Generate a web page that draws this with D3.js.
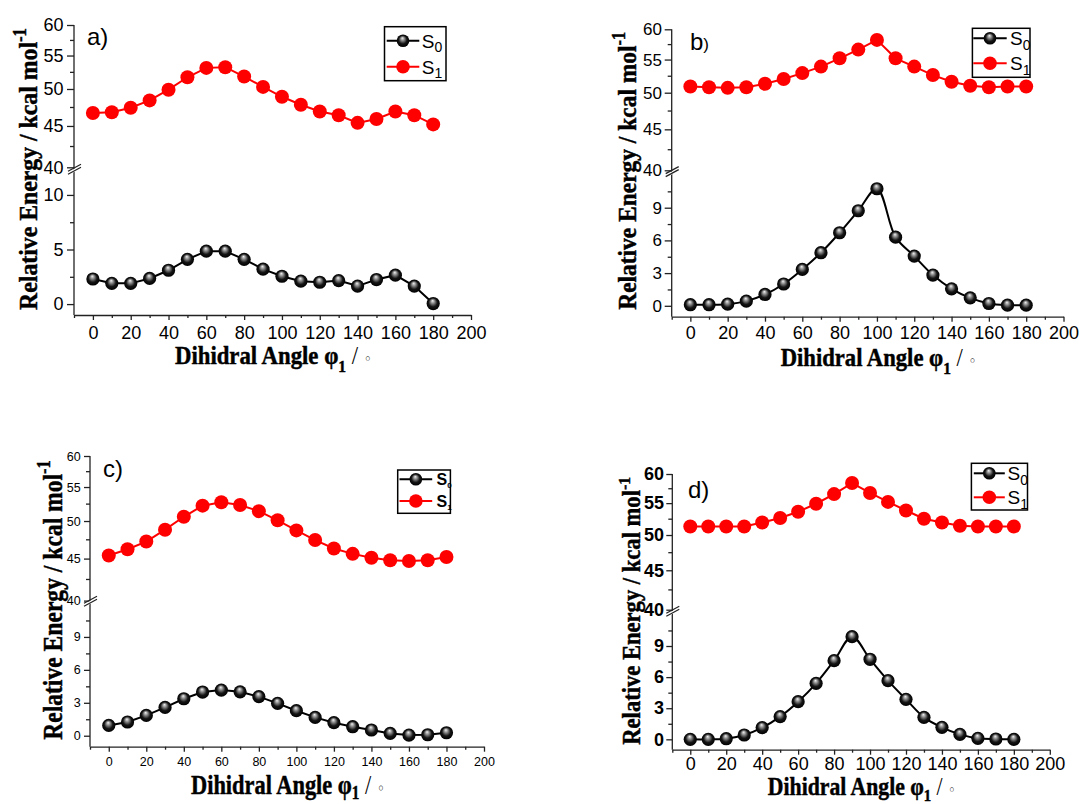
<!DOCTYPE html>
<html lang="en">
<head>
<meta charset="UTF-8">
<title>Relative Energy vs Dihidral Angle</title>
<script src="https://d3js.org/d3.v7.min.js"></script>
<style>
  body { margin: 0; background: #fff; }
  svg { display: block; }
  .tick line, .domain { stroke: #222; stroke-width: 1.3; }
</style>
</head>
<body>
<div id="chart"></div>
<script>
// ---- data ----
const angles = [0, 10, 20, 30, 40, 50, 60, 70, 80, 90, 100, 110, 120, 130, 140, 150, 160, 170, 180];

const s0A = [2.3, 1.9, 1.9, 2.35, 3.1, 4.1, 4.85, 4.85, 4.1, 3.2, 2.55, 2.1, 2.0, 2.15, 1.65, 2.25, 2.65, 1.65, 0.05];
const s1A = [46.7, 46.8, 47.4, 48.4, 49.9, 51.7, 53.1, 53.2, 51.8, 50.3, 48.9, 47.8, 46.9, 46.4, 45.4, 45.9, 46.9, 46.4, 45.2];

const s0B = [0.1, 0.1, 0.15, 0.43, 1.04, 2.0, 3.34, 4.87, 6.7, 8.72, 10.74, 6.3, 4.56, 2.82, 1.56, 0.73, 0.21, 0.06, 0.06];
const s1B = [50.9, 50.8, 50.7, 50.8, 51.3, 52.0, 52.9, 53.9, 55.2, 56.6, 58.2, 55.2, 53.9, 52.6, 51.6, 51.0, 50.8, 50.9, 50.9];

const s0C = [0.94, 1.25, 1.85, 2.58, 3.37, 3.98, 4.16, 4.0, 3.56, 2.95, 2.28, 1.67, 1.19, 0.82, 0.52, 0.21, 0.06, 0.09, 0.27];
const s1C = [45.4, 46.2, 47.2, 48.8, 50.6, 52.2, 52.7, 52.3, 51.4, 50.1, 48.7, 47.4, 46.3, 45.6, 45.1, 44.8, 44.7, 44.8, 45.2];

const s0D = [0, 0, 0.06, 0.42, 1.13, 2.19, 3.63, 5.4, 7.59, 9.9, 7.72, 5.66, 3.86, 2.12, 1.16, 0.48, 0.1, 0.03, 0];
const s1D = [51.3, 51.3, 51.3, 51.3, 51.9, 52.6, 53.6, 54.9, 56.5, 58.4, 56.7, 55.2, 53.8, 52.5, 51.9, 51.4, 51.3, 51.3, 51.3];

const panelLabels = ["a", "b", "c", "d"];
const seriesLabels = [["S", "0"], ["S", "1"]];
const xTicks = [0, 20, 40, 60, 80, 100, 120, 140, 160, 180, 200];
const xMinor = [-10, 10, 30, 50, 70, 90, 110, 130, 150, 170, 190];
const upperTicks = [40, 45, 50, 55, 60];
const upperMinor = [42.5, 47.5, 52.5, 57.5];
const lowerTicksA = [0, 5, 10];
const lowerMinorA = [2.5, 7.5];
const lowerTicks3 = [0, 3, 6, 9];
const lowerMinor3 = [1.5, 4.5, 7.5, 10.5];

const panels = [
  { s0: s0A, s1: s1A, label: panelLabels[0], lowT: lowerTicksA, lowM: lowerMinorA, smooth: false,
    axisX: 74, x200: 471, y60: 25, y40: 167.3, axisY: 315, lowTop: 173.1,
    yTick: { size: 18, weight: "normal", len: 7, pad: 3.5 }, xTick: { size: 18, pad: 6.5 },
    lab: { x: 87, y: 45, size: 24, psize: 24 },
    leg: { x0: 384.5, y0: 26.7, x1: 446, y1: 80.7, rows: [40.7, 66.7], l0: 386.7, l1: 419.3, tx: 421.7, size: 19, sub: 14, weight: "normal" },
    yTitle: { x: 36.5, cy: 169, len: 282, size: 26 },
    xTitle: { cx: 273.4, y: 364, len: 197, size: 25, drop: 0.3 } },
  { s0: s0B, s1: s1B, label: panelLabels[1], lowT: lowerTicks3, lowM: lowerMinor3, smooth: true,
    axisX: 671.7, x200: 1063.5, y60: 29.3, y40: 170.3, axisY: 316.7, lowTop: 175,
    yTick: { size: 17, weight: "normal", len: 7, pad: 2.7 }, xTick: { size: 18, pad: 5 },
    lab: { x: 690, y: 50, size: 24, psize: 17 },
    leg: { x0: 972.4, y0: 28.3, x1: 1030, y1: 77.3, rows: [38.3, 63.3], l0: 973.3, l1: 1006.7, tx: 1010, size: 19, sub: 14, weight: "normal" },
    yTitle: { x: 636, cy: 170.8, len: 278, size: 26 },
    xTitle: { cx: 878.6, y: 366, len: 196, size: 25, drop: 0.3 } },
  { s0: s0C, s1: s1C, label: panelLabels[2], lowT: lowerTicks3, lowM: lowerMinor3, smooth: false,
    axisX: 90, x200: 484, y60: 456, y40: 600.6, axisY: 746.7, lowTop: 604,
    yTick: { size: 12.5, weight: "normal", len: 6, pad: 3.3 }, xTick: { size: 12.5, pad: 5.5 },
    lab: { x: 103, y: 477, size: 24, psize: 24 },
    leg: { x0: 397.7, y0: 470, x1: 450.4, y1: 513.3, rows: [479.3, 501], l0: 399.5, l1: 432.2, tx: 436.6, size: 16, sub: 8, weight: "bold" },
    yTitle: { x: 61.7, cy: 600, len: 280, size: 28 },
    xTitle: { cx: 287.9, y: 794, len: 194, size: 27, drop: 0.2 } },
  { s0: s0D, s1: s1D, label: panelLabels[3], lowT: lowerTicks3, lowM: lowerMinor3, smooth: true,
    axisX: 672.3, x200: 1049.8, y60: 474, y40: 609.7, axisY: 749.7, lowTop: 614.9,
    yTick: { size: 18, weight: "bold", len: 6, pad: 2.3 }, xTick: { size: 18, pad: 2.5 },
    lab: { x: 688, y: 498, size: 24, psize: 24 },
    leg: { x0: 971.4, y0: 463.3, x1: 1027.5, y1: 510, rows: [473.3, 497.3], l0: 973.8, l1: 1004.8, tx: 1007.5, size: 19, sub: 14, weight: "normal" },
    yTitle: { x: 640, cy: 610.8, len: 268, size: 25 },
    xTitle: { cx: 861.8, y: 795, len: 188, size: 25, drop: 0.25 } }
];

const sansFont = "'Liberation Sans', Arial, sans-serif";
const serifFont = "'Liberation Serif', 'Times New Roman', serif";

const svg = d3.select("#chart").append("svg")
  .attr("width", 1079)
  .attr("height", 804);

// shaded black ball used for the S0 markers
const grad = svg.append("defs").append("radialGradient")
  .attr("id", "ball")
  .attr("cx", "50%").attr("cy", "50%").attr("r", "50%")
  .attr("fx", "45%").attr("fy", "28%");
grad.append("stop").attr("offset", "0%").attr("stop-color", "#f2f2f2");
grad.append("stop").attr("offset", "30%").attr("stop-color", "#8a8a8a");
grad.append("stop").attr("offset", "65%").attr("stop-color", "#151515");
grad.append("stop").attr("offset", "100%").attr("stop-color", "#000");

panels.forEach(drawPanel);

function drawPanel(p) {
  const g = svg.append("g");

  const x = d3.scaleLinear().domain([-10, 200]).range([p.axisX, p.x200]);
  const yUp = d3.scaleLog().domain([40, 60]).range([p.y40, p.y60]);
  const yLow = d3.scaleLinear().domain([-1, 12]).range([p.axisY, p.lowTop]);

  // x axis
  const xAxis = g.append("g")
    .attr("transform", `translate(0,${p.axisY})`)
    .call(d3.axisBottom(x).tickValues(xTicks).tickSize(5).tickSizeOuter(0).tickPadding(p.xTick.pad));
  xAxis.attr("font-size", p.xTick.size).attr("font-family", sansFont);
  g.append("g")
    .attr("transform", `translate(0,${p.axisY})`)
    .call(d3.axisBottom(x).tickValues(xMinor).tickSize(3).tickFormat(""))
    .select(".domain").remove();

  // y axis line (drawn by hand, broken below)
  g.append("line")
    .attr("x1", p.axisX).attr("x2", p.axisX)
    .attr("y1", p.y60).attr("y2", p.axisY)
    .attr("stroke", "#222").attr("stroke-width", 1.3);

  function yAxis(scale, ticks, minor) {
    const a = g.append("g")
      .attr("transform", `translate(${p.axisX},0)`)
      .call(d3.axisLeft(scale).tickValues(ticks).tickSize(p.yTick.len)
        .tickPadding(p.yTick.pad).tickFormat(d3.format("d")));
    a.select(".domain").remove();
    a.attr("font-size", p.yTick.size).attr("font-family", sansFont)
      .attr("font-weight", p.yTick.weight);
    g.append("g")
      .attr("transform", `translate(${p.axisX},0)`)
      .call(d3.axisLeft(scale).tickValues(minor).tickSize(4).tickFormat(""))
      .select(".domain").remove();
  }
  yAxis(yUp, upperTicks, upperMinor);
  yAxis(yLow, p.lowT, p.lowM);

  // break marks
  const gm = (yUp(40) + yLow(12)) / 2;
  const bx0 = p.axisX - 6, bx1 = p.axisX + 7;
  g.append("polygon")
    .attr("points", `${bx0},${gm + 4} ${bx1},${gm - 3} ${bx1},${gm - 0} ${bx0},${gm + 7}`)
    .attr("transform", "translate(0,-2)")
    .attr("fill", "#fff");
  [gm + 2, gm + 5].forEach(b => {
    g.append("line")
      .attr("x1", bx0).attr("y1", b - 1)
      .attr("x2", bx1).attr("y2", b - 8)
      .attr("stroke", "#222").attr("stroke-width", 1.2);
  });

  // S1 (red) on the upper segment
  const s1pts = angles.map((a, i) => [a, p.s1[i]]);
  g.append("path")
    .datum(s1pts)
    .attr("fill", "none")
    .attr("stroke", "#ff0000")
    .attr("stroke-width", 2)
    .attr("d", d3.line().x(d => x(d[0])).y(d => yUp(d[1])));
  g.selectAll(".s1dot")
    .data(s1pts)
    .enter().append("circle")
    .attr("class", "s1dot")
    .attr("cx", d => x(d[0])).attr("cy", d => yUp(d[1]))
    .attr("r", 7)
    .attr("fill", "#ff0000");

  // S0 (black balls) on the lower segment
  const s0pts = angles.map((a, i) => [a, p.s0[i]]);
  g.append("path")
    .datum(s0pts)
    .attr("fill", "none")
    .attr("stroke", "#000")
    .attr("stroke-width", 2)
    .attr("d", d3.line().x(d => x(d[0])).y(d => yLow(d[1]))
      .curve(p.smooth ? d3.curveCatmullRom.alpha(0.5) : d3.curveLinear));
  g.selectAll(".s0dot")
    .data(s0pts)
    .enter().append("circle")
    .attr("class", "s0dot")
    .attr("cx", d => x(d[0])).attr("cy", d => yLow(d[1]))
    .attr("r", 6.6)
    .attr("fill", "url(#ball)");

  // panel label
  const lab = g.append("text")
    .attr("x", p.lab.x).attr("y", p.lab.y)
    .attr("font-family", sansFont)
    .attr("font-size", p.lab.size)
    .text(p.label);
  lab.append("tspan").attr("font-size", p.lab.psize).text(")");

  // legend
  const L = p.leg;
  g.append("rect")
    .attr("x", L.x0).attr("y", L.y0)
    .attr("width", L.x1 - L.x0).attr("height", L.y1 - L.y0)
    .attr("fill", "#fff").attr("stroke", "#000").attr("stroke-width", 1.5);
  seriesLabels.forEach((s, i) => {
    const ry = L.rows[i];
    const col = i === 0 ? "#000" : "#ff0000";
    g.append("line")
      .attr("x1", L.l0).attr("x2", L.l1).attr("y1", ry).attr("y2", ry)
      .attr("stroke", col).attr("stroke-width", 2);
    g.append("circle")
      .attr("cx", (L.l0 + L.l1) / 2).attr("cy", ry)
      .attr("r", i === 0 ? 6.3 : 6.8)
      .attr("fill", i === 0 ? "url(#ball)" : col);
    const t = g.append("text")
      .attr("x", L.tx).attr("y", ry + L.size * 0.36)
      .attr("font-family", sansFont)
      .attr("font-size", L.size)
      .attr("font-weight", L.weight)
      .text(s[0]);
    t.append("tspan")
      .attr("font-size", L.sub)
      .attr("dy", L.sub * 0.35)
      .text(s[1]);
  });

  // y title
  const yt = g.append("text")
    .attr("text-anchor", "middle")
    .attr("font-family", serifFont)
    .attr("font-weight", "bold")
    .attr("font-size", p.yTitle.size)
    .attr("stroke", "#000")
    .attr("stroke-width", 0.45)
    .text("Relative Energy / kcal mol");
  yt.append("tspan")
    .attr("font-size", p.yTitle.size * 0.7)
    .attr("dy", -p.yTitle.size * 0.42)
    .text("-1");
  const yw = yt.node().getBBox().width;
  yt.attr("transform", `translate(${p.yTitle.x},${p.yTitle.cy}) rotate(-90) scale(${p.yTitle.len / yw},1)`);

  // x title
  const xt = g.append("text")
    .attr("text-anchor", "middle")
    .attr("font-family", serifFont)
    .attr("font-weight", "bold")
    .attr("font-size", p.xTitle.size)
    .attr("stroke", "#000")
    .attr("stroke-width", 0.45)
    .text("Dihidral Angle \u03C6");
  xt.append("tspan")
    .attr("font-size", p.xTitle.size * 0.68)
    .attr("dy", p.xTitle.size * p.xTitle.drop)
    .text("1");
  xt.append("tspan")
    .attr("font-weight", "normal")
    .attr("stroke-width", 0)
    .attr("dy", -p.xTitle.size * p.xTitle.drop)
    .text(" / ");
  xt.append("tspan")
    .attr("font-weight", "normal")
    .attr("stroke-width", 0)
    .attr("font-size", p.xTitle.size * 0.6)
    .attr("font-family", "'DejaVu Sans', sans-serif")
    .text("\u25E6");
  const xw = xt.node().getBBox().width;
  xt.attr("transform", `translate(${p.xTitle.cx},${p.xTitle.y}) scale(${p.xTitle.len / xw},1)`);
}
</script>
</body>
</html>
